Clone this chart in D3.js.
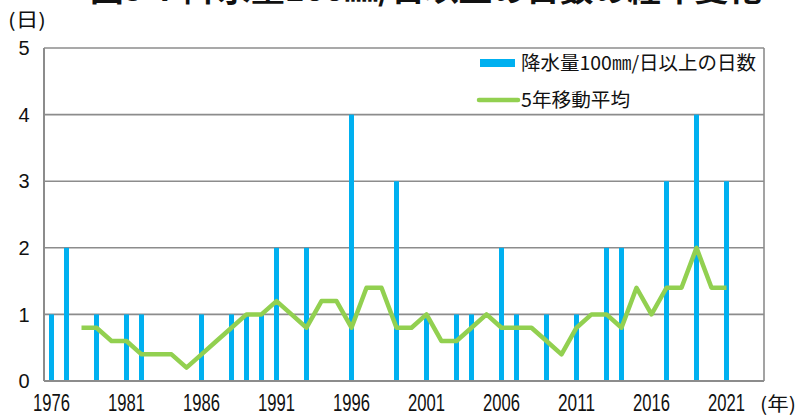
<!DOCTYPE html>
<html><head><meta charset="utf-8">
<script src="https://cdn.jsdelivr.net/npm/d3@7"></script>
<style>
html,body{margin:0;padding:0;background:#fff;}
svg{display:block;}
</style></head>
<body>
<script>
// ---- data ----
const years = [1976,1977,1978,1979,1980,1981,1982,1983,1984,1985,1986,1987,1988,1989,1990,1991,1992,1993,1994,1995,1996,1997,1998,1999,2000,2001,2002,2003,2004,2005,2006,2007,2008,2009,2010,2011,2012,2013,2014,2015,2016,2017,2018,2019,2020,2021,2022,2023];
const days  = [1,2,0,1,0,1,1,0,0,0,1,0,1,1,1,2,0,2,0,0,4,0,0,3,0,1,0,1,1,0,2,1,0,1,0,1,0,2,2,0,0,3,0,4,0,3,0,0];
const maYears = [1978,1979,1980,1981,1982,1983,1984,1985,1986,1987,1988,1989,1990,1991,1992,1993,1994,1995,1996,1997,1998,1999,2000,2001,2002,2003,2004,2005,2006,2007,2008,2009,2010,2011,2012,2013,2014,2015,2016,2017,2018,2019,2020,2021];
const maValues = [0.8,0.8,0.6,0.6,0.4,0.4,0.4,0.2,0.4,0.6,0.8,1.0,1.0,1.2,1.0,0.8,1.2,1.2,0.8,1.4,1.4,0.8,0.8,1.0,0.6,0.6,0.8,1.0,0.8,0.8,0.8,0.6,0.4,0.8,1.0,1.0,0.8,1.4,1.0,1.4,1.4,2.0,1.4,1.4];
const xTickYears = [1976,1981,1986,1991,1996,2001,2006,2011,2016,2021];
const yTicks = [0,1,2,3,4,5];
const title = "図5-7 降水量100㎜/日以上の日数の経年変化";
const seriesNames = ["降水量100㎜/日以上の日数","5年移動平均"];

// ---- layout ----
const W = 796, H = 420;
const L = 44, R = 764, T = 48, B = 381;
const blue = "#00B0F0", green = "#92D050", grid = "#8c8c8c";
const numFont = "'Liberation Sans Narrow','Liberation Sans',sans-serif";
const jpFont = "'Noto Sans CJK JP','Noto Sans CJK SC',sans-serif";

const svg = d3.select("body").append("svg").attr("width", W).attr("height", H);

const x = d3.scaleBand().domain(years).range([L, R]).padding(0);
const y = d3.scaleLinear().domain([0, 5]).range([B, T]);
const cx = d => x(d) + x.bandwidth() / 2;

// title (cut off at the top edge as in the reference)
svg.append("text").attr("x", 90).attr("y", 1)
  .attr("font-family", jpFont).attr("font-weight", "bold").attr("font-size", 30)
  .attr("textLength", 672).attr("lengthAdjust", "spacingAndGlyphs")
  .attr("fill", "#111").text(title);

// gridlines
svg.append("g").selectAll("line").data(yTicks.filter(d => d > 0)).join("line")
  .attr("x1", L).attr("x2", R).attr("y1", d => y(d)).attr("y2", d => y(d))
  .attr("stroke", grid).attr("stroke-width", 1.6);

// right border
svg.append("line").attr("x1", R).attr("x2", R).attr("y1", T).attr("y2", B)
  .attr("stroke", grid).attr("stroke-width", 1.6);

// bars
const bw = 5;
svg.append("g").selectAll("rect").data(years.map((yr, i) => ({yr, v: days[i]})).filter(d => d.v > 0)).join("rect")
  .attr("x", d => cx(d.yr) - bw / 2).attr("width", bw)
  .attr("y", d => y(d.v)).attr("height", d => y(0) - y(d.v))
  .attr("fill", blue);

// axes lines
svg.append("line").attr("x1", L).attr("x2", L).attr("y1", T).attr("y2", B)
  .attr("stroke", grid).attr("stroke-width", 2);
svg.append("line").attr("x1", L).attr("x2", R).attr("y1", B).attr("y2", B)
  .attr("stroke", grid).attr("stroke-width", 2);

// moving average line
const line = d3.line().x(d => cx(d.yr)).y(d => y(d.v));
svg.append("path").datum(maYears.map((yr, i) => ({yr, v: maValues[i]})))
  .attr("d", line).attr("fill", "none").attr("stroke", green)
  .attr("stroke-width", 4.5).attr("stroke-linejoin", "round");

// y tick labels
svg.append("g").selectAll("text").data(yTicks).join("text")
  .attr("x", 24).attr("y", d => y(d)).attr("dy", "0.36em")
  .attr("text-anchor", "middle")
  .attr("font-family", numFont).attr("font-size", 20).attr("fill", "#111")
  .text(d => d);

// x tick labels
svg.append("g").selectAll("text").data(xTickYears).join("text")
  .attr("x", d => cx(d)).attr("y", 411)
  .attr("text-anchor", "middle")
  .attr("font-family", numFont).attr("font-size", 23).attr("fill", "#111")
  .attr("textLength", 37).attr("lengthAdjust", "spacingAndGlyphs")
  .text(d => d);

// unit labels
svg.append("text").attr("x", 8).attr("y", 27)
  .attr("font-family", jpFont).attr("font-size", 19).attr("fill", "#111")
  .attr("textLength", 38).attr("lengthAdjust", "spacingAndGlyphs")
  .text("(日)");
svg.append("text").attr("x", 760).attr("y", 411)
  .attr("font-family", jpFont).attr("font-size", 19).attr("fill", "#111")
  .attr("textLength", 36).attr("lengthAdjust", "spacingAndGlyphs")
  .text("(年)");

// legend
const lg = svg.append("g");
lg.append("rect").attr("x", 480).attr("y", 59).attr("width", 35).attr("height", 8).attr("fill", blue);
lg.append("text").attr("x", 521).attr("y", 70)
  .attr("font-family", jpFont).attr("font-size", 19).attr("fill", "#111")
  .attr("textLength", 235).attr("lengthAdjust", "spacingAndGlyphs")
  .text(seriesNames[0]);
lg.append("line").attr("x1", 479).attr("x2", 518).attr("y1", 100).attr("y2", 100)
  .attr("stroke", green).attr("stroke-width", 4.5).attr("stroke-linecap", "round");
lg.append("text").attr("x", 521).attr("y", 107)
  .attr("font-family", jpFont).attr("font-size", 19).attr("fill", "#111")
  .attr("textLength", 109).attr("lengthAdjust", "spacingAndGlyphs")
  .text(seriesNames[1]);
</script>
</body></html>
